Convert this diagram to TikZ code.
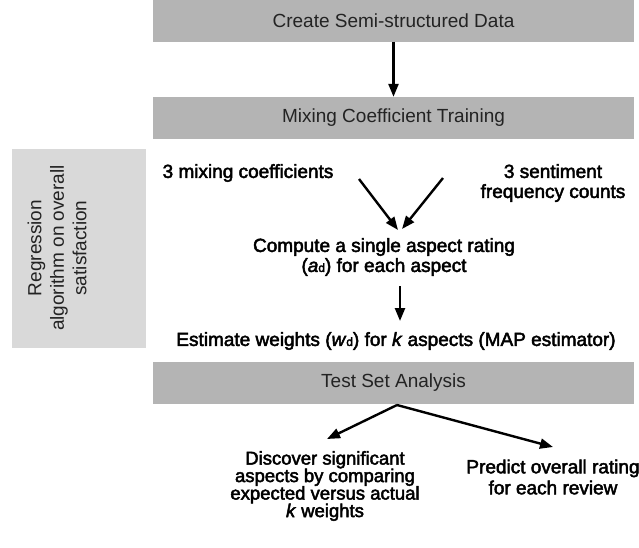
\documentclass[tikz,border=0pt]{standalone}
\usepackage{fontspec}
\setmainfont{Liberation Sans}
\newfontfamily\heavy[FakeBold=2.5]{Liberation Sans}
\usetikzlibrary{arrows.meta}
\definecolor{boxgray}{RGB}{180,180,180}
\definecolor{sidegray}{RGB}{217,217,217}
\definecolor{boxtext}{RGB}{35,35,35}
\begin{document}
\begin{tikzpicture}[x=1pt,y=-1pt]
\useasboundingbox (0,0) rectangle (639,547);
\tikzset{
  band/.style={fill=boxgray, minimum width=481pt, minimum height=42pt, inner sep=0pt,
    font=\fontsize{19}{22}\selectfont, text=boxtext},
  lbl/.style={font=\heavy\fontsize{19}{20}\selectfont, align=center, inner sep=0pt},
  arr/.style={line width=2.4pt, -{Triangle[length=13pt,width=10pt]}},
}
% bands
\node[band] (create) at (393.5,20.5) {Create Semi-structured Data};
\node[band] (train) at (393.5,118) {Mixing Coefficient Training};
\node[band] (test) at (393.5,383) {Test Set Analysis};
% side box
\node[fill=sidegray, minimum width=134pt, minimum height=199pt, inner sep=0pt] (side) at (79,248.5) {};
\node[rotate=90, align=center, inner sep=0pt, font=\fontsize{19}{22.5}\selectfont, text=boxtext] (sidetext) at (57,248) {Regression\\algorithm on overall\\satisfaction};
% labels
\node[lbl] (mix) at (248,173) {3 mixing coefficients};
\node[lbl, font=\heavy\fontsize{19}{20}\selectfont] (sent) at (553,183) {3 sentiment\\frequency counts};
\node[lbl, font=\heavy\fontsize{19}{20}\selectfont] (comp) at (384,257) {Compute a single aspect rating\\(\textit{a}{\fontsize{12}{12}\selectfont d}) for each aspect};
\node[lbl] (est) at (396,341) {Estimate weights (\textit{w}{\fontsize{12}{12}\selectfont d}) for \textit{k} aspects (MAP estimator)};
\node[lbl, font={\heavy\fontsize{18.5}{17.5}\selectfont\lineskiplimit=-30pt}] (disc) at (325,486) {Discover significant\\aspects by comparing\\expected versus actual\\\textit{k} weights};
\node[lbl, font=\heavy\fontsize{19}{21}\selectfont] (pred) at (553,477) {Predict overall rating\\for each review};
% connector end points
\coordinate (a1s) at (359,179);
\coordinate (a1e) at (398,230);
\coordinate (a2s) at (443,178);
\coordinate (a2e) at (402,229);
\coordinate (dns) at (400,286);
\coordinate (dne) at (400,321);
\coordinate (ts) at (397,405);
\coordinate (lt) at (327,439);
\coordinate (rt) at (553,447);
% connectors
\draw[arr] (create.south) -- (train.north);
\draw[arr] (a1s) -- (a1e);
\draw[arr] (a2s) -- (a2e);
\draw[arr] (dns) -- (dne);
\draw[arr] (ts) -- (lt);
\draw[arr] (ts) -- (rt);
\end{tikzpicture}
\end{document}
